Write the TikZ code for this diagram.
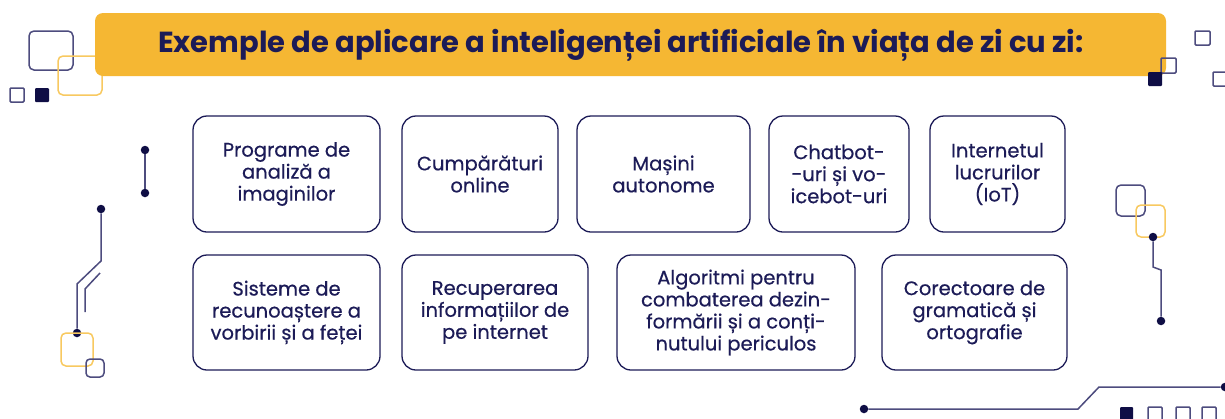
\documentclass[tikz,border=0pt]{standalone}
\usepackage{fontspec}
\setmainfont{Poppins}
\newfontfamily\cardfont{Poppins}[FakeBold=0.5]
\definecolor{navy}{HTML}{1C1B57}
\definecolor{dnavy}{HTML}{0F0E45}
\definecolor{gold}{HTML}{F5B733}
\definecolor{lgold}{HTML}{F8C960}
\definecolor{lnavy}{HTML}{4D4C7E}
\begin{document}
\begin{tikzpicture}[x=1pt,y=-1pt,
  card/.style={draw=navy, line width=1.3pt, rounded corners=14pt, align=center, text=navy,
    font=\cardfont\fontsize{19.5}{22}\selectfont, inner sep=0pt},
  wire/.style={draw=lnavy, line width=1.5pt},
  dot/.style={circle, fill=dnavy, inner sep=0pt, minimum size=8.5pt},
  nsq/.style={draw=lnavy, line width=1.5pt, rounded corners=5pt},
  osq/.style={draw=lgold, line width=1.5pt, rounded corners=5pt},
  ssq/.style={draw=lnavy, line width=1.5pt, rounded corners=1pt},
  fsq/.style={fill=dnavy, rounded corners=1pt}]
\useasboundingbox (0,0) rectangle (1225,418);
\fill[white] (0,0) rectangle (1225,418);
% left top decorations
\draw[nsq] (29,31) rectangle (73,70);
\draw[osq] (58,56) rectangle (102,95);
\draw[ssq] (10,88) rectangle (24,102);
\fill[fsq] (35,88) rectangle (49,102);
% banner
\node[fill=gold, rounded corners=8pt, minimum width=1071pt, minimum height=63pt, inner sep=0pt] (banner) at (630.5,44.5) {};
\node[text=navy, font=\fontsize{29}{34}\selectfont\bfseries] (title) at (621,45) {Exemple de aplicare a inteligenței artificiale în viața de zi cu zi:};
% right top decorations
\draw[ssq] (1195,31) rectangle (1210,45);
\draw[ssq] (1161,58) rectangle (1176,73);
\fill[fsq] (1148,72) rectangle (1162,86);
\draw[ssq] (1213,72) rectangle (1228,86);
% cards row 1
\node[card, minimum width=187pt, minimum height=116pt] (b1) at (286.5,174) {Programe de\\analiză a\\imaginilor};
\node[card, minimum width=156pt, minimum height=116pt] (b2) at (480,174) {Cumpărături\\online};
\node[card, minimum width=173pt, minimum height=116pt] (b3) at (663.5,174) {Mașini\\autonome};
\node[card, minimum width=140pt, minimum height=116pt] (b4) at (839,174) {Chatbot-\\-uri și vo-\\icebot-uri};
\node[card, minimum width=135pt, minimum height=116pt] (b5) at (997.5,174) {Internetul\\lucrurilor\\(IoT)};
% cards row 2
\node[card, minimum width=187pt, minimum height=115pt] (b6) at (286.5,312.5) {Sisteme de\\recunoaștere a\\vorbirii și a feței};
\node[card, minimum width=186pt, minimum height=115pt] (b7) at (495,312.5) {Recuperarea\\informațiilor de\\pe internet};
\node[card, minimum width=238pt, minimum height=115pt] (b8) at (736,312.5) {Algoritmi pentru\\combaterea dezin-\\formării și a conți-\\nutului periculos};
\node[card, minimum width=185pt, minimum height=115pt] (b9) at (974.5,312.5) {Corectoare de\\gramatică și\\ortografie};
% left wires
\node[dot] (l1) at (145,150) {};
\node[dot] (l2) at (145,193) {};
\draw[wire] (l1) -- (l2);
\node[dot] (l3) at (101,209) {};
\coordinate (l3a) at (101,261);
\coordinate (l3b) at (77,284);
\node[dot] (l4) at (77,333) {};
\draw[wire] (l3) -- (l3a) -- (l3b) -- (l4);
\coordinate (p1) at (100,273);
\coordinate (p2) at (85,289);
\coordinate (p3) at (85,312);
\draw[wire] (p1) -- (p2) -- (p3);
\draw[osq] (61,333) rectangle (93,366);
\draw[nsq, rounded corners=4pt] (86,359) rectangle (104,377);
% right decorations
\draw[nsq] (1116,185) rectangle (1145,216);
\draw[osq] (1136,205) rectangle (1165,237);
\node[dot] (r1) at (1153,237) {};
\coordinate (r1a) at (1153,267);
\coordinate (r1b) at (1161,270);
\node[dot] (r2) at (1161,321) {};
\draw[wire] (r1) -- (r1a) -- (r1b) -- (r2);
% bottom wire
\node[dot] (d1) at (864,409) {};
\coordinate (d1a) at (1078,409);
\coordinate (d1b) at (1099,387);
\node[dot] (d2) at (1225,387) {};
\draw[wire] (d1) -- (d1a) -- (d1b) -- (d2);
\fill[fsq] (1120,407) rectangle (1133,421);
\draw[ssq] (1148,407) rectangle (1162,421);
\draw[ssq] (1176,407) rectangle (1190,421);
\draw[ssq] (1202,407) rectangle (1216,421);
\end{tikzpicture}
\end{document}
